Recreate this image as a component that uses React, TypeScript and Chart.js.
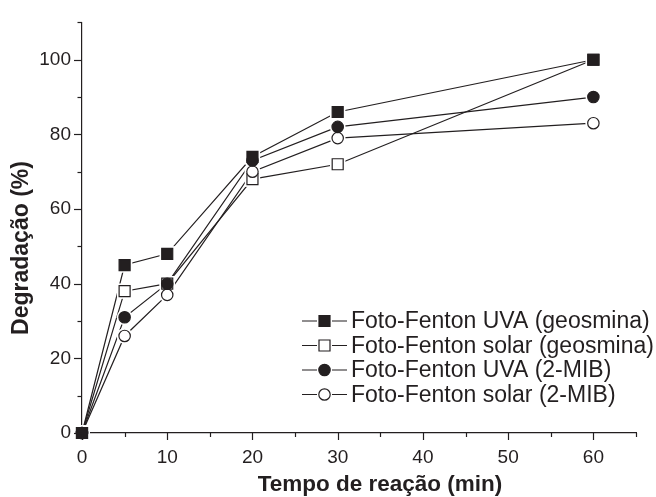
import React, { useEffect, useRef } from 'react';
import { Chart, registerables } from 'chart.js';

Chart.register(...registerables);

// ---- data ----
const times = [0, 5, 10, 20, 30, 60];
const uvaGeosmina = [0, 45, 48, 74, 86, 100];
const solarGeosmina = [0, 38, 40, 68, 72, 100];
const uvaMib = [0, 31, 40, 73, 82, 90];
const solarMib = [0, 26, 37, 70, 79, 83];
const seriesLabels = [
  'Foto-Fenton UVA (geosmina)',
  'Foto-Fenton solar (geosmina)',
  'Foto-Fenton UVA (2-MIB)',
  'Foto-Fenton solar (2-MIB)',
];
const xTitle = 'Tempo de reação (min)';
const yTitle = 'Degradação (%)';
const xMin = 0, xMax = 65, xMajor = 10, xMinor = 5;
const yMin = 0, yMax = 110, yMajor = 20, yMinor = 10;

const INK = '#231f20';
const FONT = '"Liberation Sans", Arial, Helvetica, sans-serif';

type Style = { shape: 'rect' | 'circle'; filled: boolean; order: number };
const styles: Style[] = [
  { shape: 'rect', filled: true, order: 0 },
  { shape: 'rect', filled: false, order: 3 },
  { shape: 'circle', filled: true, order: 1 },
  { shape: 'circle', filled: false, order: 2 },
];
const seriesValues = [uvaGeosmina, solarGeosmina, uvaMib, solarMib];

const SQUARE_SIDE = 11;
const CIRCLE_R = 5.7;
const HALO = 2.2;

// Chart.js 'rect' point: side = radius * sqrt(2)
const radiusFor = (st: Style, extra: number) =>
  st.shape === 'rect' ? (SQUARE_SIDE + 2 * extra) / Math.SQRT2 : CIRCLE_R + extra;

function drawLegendMarker(ctx: CanvasRenderingContext2D, st: Style, cx: number, cy: number) {
  ctx.beginPath();
  if (st.shape === 'rect') {
    const h = SQUARE_SIDE / 2;
    ctx.rect(cx - h, cy - h, SQUARE_SIDE, SQUARE_SIDE);
  } else {
    ctx.arc(cx, cy, CIRCLE_R, 0, Math.PI * 2);
  }
  ctx.fillStyle = st.filled ? INK : '#ffffff';
  ctx.fill();
  ctx.lineWidth = 1.2;
  ctx.strokeStyle = INK;
  ctx.stroke();
}

const decor = {
  id: 'decor',
  afterDraw(chart: any) {
    const { ctx, chartArea } = chart;
    const x = chart.scales.x;
    const y = chart.scales.y;
    ctx.save();
    ctx.strokeStyle = INK;
    ctx.lineWidth = 1.2;
    // tick marks (major + minor), outward
    for (let v = xMin; v <= xMax + 1e-9; v += xMinor) {
      const px = Math.round(x.getPixelForValue(v)) + 0.5;
      const len = v % xMajor === 0 ? 7 : 4;
      ctx.beginPath();
      ctx.moveTo(px, chartArea.bottom);
      ctx.lineTo(px, chartArea.bottom + len);
      ctx.stroke();
    }
    for (let v = yMin; v <= yMax + 1e-9; v += yMinor) {
      const py = Math.round(y.getPixelForValue(v)) + 0.5;
      const len = v % yMajor === 0 ? 8 : 4.5;
      ctx.beginPath();
      ctx.moveTo(chartArea.left - len, py);
      ctx.lineTo(chartArea.left, py);
      ctx.stroke();
    }
    // axis titles
    ctx.fillStyle = INK;
    ctx.textAlign = 'center';
    ctx.textBaseline = 'middle';
    ctx.font = `bold 22.5px ${FONT}`;
    ctx.fillText(xTitle, 380, 485);
    ctx.save();
    ctx.font = `bold 23px ${FONT}`;
    ctx.translate(22, 248);
    ctx.rotate(-Math.PI / 2);
    ctx.fillText(yTitle, 0, 0);
    ctx.restore();
    // legend
    const rowY0 = 321;
    const rowDy = 24.5;
    seriesLabels.forEach((label, i) => {
      const ry = rowY0 + i * rowDy;
      ctx.strokeStyle = INK;
      ctx.lineWidth = 1.2;
      ctx.beginPath();
      ctx.moveTo(302, ry);
      ctx.lineTo(317, ry);
      ctx.moveTo(332, ry);
      ctx.lineTo(347, ry);
      ctx.stroke();
      drawLegendMarker(ctx, styles[i], 324.5, ry);
      ctx.fillStyle = INK;
      ctx.font = `23px ${FONT}`;
      ctx.textAlign = 'left';
      ctx.textBaseline = 'middle';
      ctx.fillText(label, 351, ry + 1);
    });
    ctx.restore();
  },
};

export default function App() {
  const canvasRef = useRef<HTMLCanvasElement | null>(null);

  useEffect(() => {
    const canvas = canvasRef.current;
    if (!canvas) return;

    const pts = (vals: number[]) => times.map((t, k) => ({ x: t, y: vals[k] }));

    // lines (bottom layer)
    const lineSets = seriesValues.map((vals, i) => ({
      label: seriesLabels[i],
      data: pts(vals),
      borderColor: INK,
      borderWidth: 1.2,
      pointRadius: 0,
      tension: 0,
      fill: false,
      clip: false as any,
      order: 30 + i,
    }));
    // white halos so the lines stop short of each marker
    const haloSets = seriesValues.map((vals, i) => ({
      label: seriesLabels[i] + ' halo',
      data: pts(vals),
      showLine: false,
      pointStyle: styles[i].shape,
      pointRadius: radiusFor(styles[i], HALO),
      pointBorderWidth: 0,
      pointBackgroundColor: '#ffffff',
      pointBorderColor: '#ffffff',
      clip: false as any,
      order: 20 + i,
    }));
    // markers (top layer)
    const pointSets = seriesValues.map((vals, i) => ({
      label: seriesLabels[i] + ' markers',
      data: pts(vals),
      showLine: false,
      pointStyle: styles[i].shape,
      pointRadius: radiusFor(styles[i], 0),
      pointBorderWidth: 1.2,
      pointBorderColor: INK,
      pointBackgroundColor: styles[i].filled ? INK : '#ffffff',
      clip: false as any,
      order: styles[i].order,
    }));

    const chart = new Chart(canvas, {
      type: 'line',
      data: { datasets: [...lineSets, ...haloSets, ...pointSets] },
      options: {
        responsive: false,
        animation: false,
        devicePixelRatio: 1,
        layout: { padding: { top: 15, right: 20, left: 0, bottom: 0 } },
        plugins: { legend: { display: false }, tooltip: { enabled: false } },
        scales: {
          x: {
            type: 'linear',
            min: xMin,
            max: xMax,
            grid: { display: false, drawTicks: false },
            border: { display: true, color: INK, width: 1.2 },
            ticks: {
              stepSize: xMajor,
              includeBounds: false,
              color: INK,
              font: { family: FONT, size: 19 },
              padding: 13,
              maxRotation: 0,
            },
            afterFit: (s: any) => { s.height = 64; },
          },
          y: {
            type: 'linear',
            min: yMin,
            max: yMax,
            grid: { display: false, drawTicks: false },
            border: { display: true, color: INK, width: 1.2 },
            ticks: {
              stepSize: yMajor,
              includeBounds: false,
              color: INK,
              font: { family: FONT, size: 19 },
              padding: 11,
            },
            afterFit: (s: any) => { s.width = 82; },
          },
        },
      },
      plugins: [decor],
    } as any);
    return () => chart.destroy();
  }, []);

  return (
    <div style={{ position: 'absolute', left: 0, top: 0, width: 656, height: 497, background: '#fff' }}>
      <canvas ref={canvasRef} width={656} height={497} style={{ display: 'block' }} />
    </div>
  );
}
